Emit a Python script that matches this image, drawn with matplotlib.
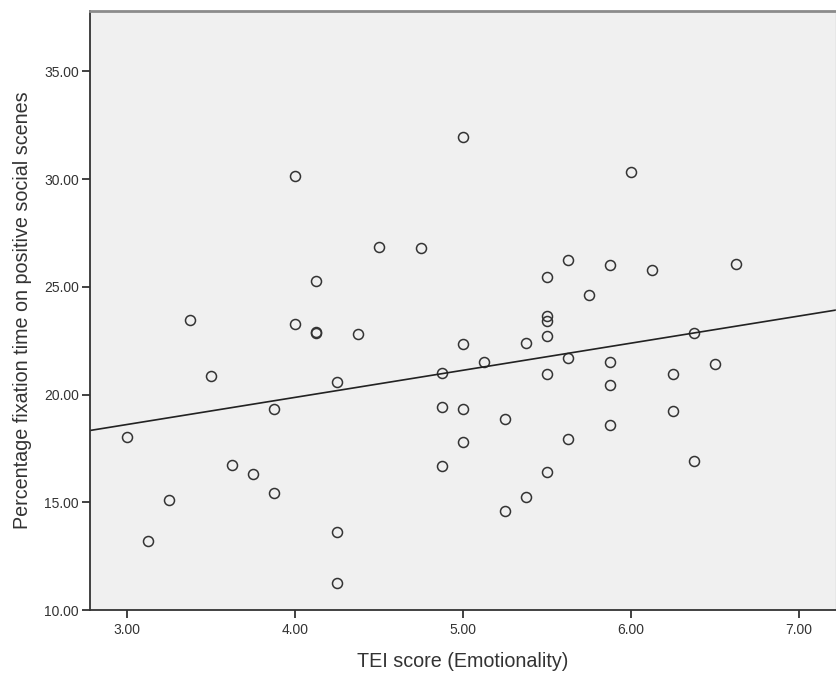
import numpy as np
import matplotlib
matplotlib.use("Agg")
import matplotlib.pyplot as plt

plt.rcParams['font.family'] = ['Liberation Sans', 'DejaVu Sans']

# TEI score (Emotionality) vs percentage fixation time on positive social scenes
tei = [3.0, 3.125, 3.25, 3.375, 3.5, 3.625, 3.75, 3.875, 3.875,
       4.0, 4.0, 4.125, 4.125, 4.125, 4.25, 4.25, 4.25, 4.375, 4.5, 4.75,
       4.875, 4.875, 4.875, 5.0, 5.0, 5.0, 5.0, 5.125, 5.25, 5.25,
       5.375, 5.375, 5.5, 5.5, 5.5, 5.5, 5.5, 5.5, 5.625, 5.625, 5.625,
       5.75, 5.875, 5.875, 5.875, 5.875, 6.0, 6.125, 6.25, 6.25,
       6.375, 6.375, 6.5, 6.625]
fixation = [18.05, 13.22, 15.12, 23.46, 20.88, 16.73, 16.30, 19.33, 15.41,
            30.16, 23.28, 25.26, 22.84, 22.90, 20.57, 13.62, 11.25, 22.81, 26.83, 26.80,
            20.99, 19.42, 16.70, 31.94, 22.35, 19.33, 17.78, 21.51, 18.88, 14.61,
            22.41, 15.26, 25.46, 23.63, 23.43, 22.70, 20.94, 16.42, 26.25, 21.68, 17.94,
            24.61, 26.03, 21.53, 20.46, 18.60, 30.35, 25.77, 20.97, 19.24,
            22.86, 16.92, 21.42, 26.04]

xticks = [3, 4, 5, 6, 7]
yticks = [10, 15, 20, 25, 30, 35]

fig = plt.figure(figsize=(8.37, 6.77), dpi=100)
ax = fig.add_axes([90/837, 1 - 610/677, 746/837, 599/677])
ax.set_facecolor('#f0f0f0')

ax.plot(tei, fixation, 'o', ms=7.2, mfc='none', mec='#333333', mew=1.1)

# least squares fit line
slope, icpt = np.polyfit(tei, fixation, 1)
xs = np.array([2.78, 7.22])
ax.plot(xs, icpt + slope * xs, color='#222222', lw=1.2)

ax.set_xlim(2.78, 7.22)
ax.set_ylim(10, 37.8)
ax.set_xticks(xticks)
ax.set_xticklabels([f"{v:.2f}" for v in xticks])
ax.set_yticks(yticks)
ax.set_yticklabels([f"{v:.2f}" for v in yticks])

for s in ['left', 'bottom']:
    ax.spines[s].set_color('#333333')
    ax.spines[s].set_linewidth(1.3)
ax.spines['top'].set_color('#8c8c8c')
ax.spines['top'].set_linewidth(2)
ax.spines['right'].set_color('#c8c8c8')
ax.spines['right'].set_linewidth(1)

ax.tick_params(axis='both', direction='out', length=6, width=1.3,
               color='#333333', labelsize=10, labelcolor='#333333', pad=2)
ax.tick_params(axis='x', pad=3)

ax.set_xlabel("TEI score (Emotionality)", fontsize=14.2, color='#333333', labelpad=11)
ax.set_ylabel("Percentage fixation time on positive social scenes", fontsize=14.2,
              color='#333333', labelpad=9)

fig.savefig("out.png", dpi=100)
